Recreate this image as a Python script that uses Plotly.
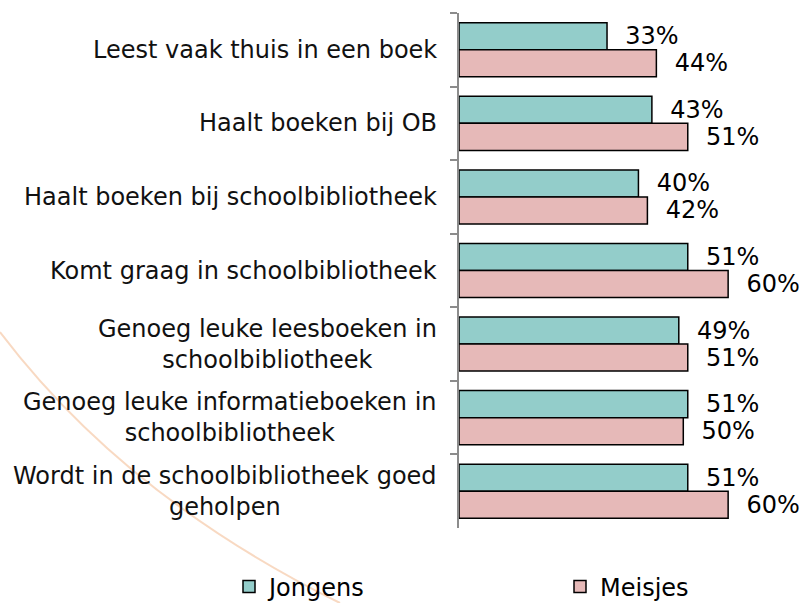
import plotly.graph_objects as go

categories = [
    "Leest vaak thuis in een boek",
    "Haalt boeken bij OB",
    "Haalt boeken bij schoolbibliotheek",
    "Komt graag in schoolbibliotheek",
    "Genoeg leuke leesboeken in<br>schoolbibliotheek",
    "Genoeg leuke informatieboeken in<br>schoolbibliotheek",
    "Wordt in de schoolbibliotheek goed<br>geholpen",
]
jongens = [33, 43, 40, 51, 49, 51, 51]
meisjes = [44, 51, 42, 60, 51, 50, 60]
series_names = ["Jongens", "Meisjes"]

W, H = 803, 603
L, R, T, B = 459, 30, 13, 75
PW, PH = W - L - R, H - T - B
FONT = "DejaVu Sans"
FS = 24


def px2paper(px, py):
    return (px - L) / PW, 1 - (py - T) / PH


fig = go.Figure()
for name, vals, col in [
    (series_names[0], jongens, "#93CDCA"),
    (series_names[1], meisjes, "#E6B9B8"),
]:
    fig.add_trace(go.Bar(
        name=name, y=categories, x=vals, orientation="h",
        marker=dict(color=col, line=dict(color="black", width=1.5)),
        text=[f"\u00a0\u00a0{v}%" for v in vals],
        textposition="outside", constraintext="none", cliponaxis=False,
        textfont=dict(family=FONT, size=FS, color="black"),
        hoverinfo="skip",
    ))

annotations = []
for c in categories:
    annotations.append(dict(
        x=0, xref="paper", y=c, yref="y", text=c, showarrow=False,
        xanchor="right", yanchor="middle", align="center", xshift=-20,
        font=dict(family=FONT, size=FS, color="#111111"),
    ))

# decorative arc in background
p0 = px2paper(0, 332)
p1 = px2paper(125, 497)
p2 = px2paper(340, 603)
path = f"M {p0[0]},{p0[1]} Q {p1[0]},{p1[1]} {p2[0]},{p2[1]}"

fig.update_layout(
    width=W, height=H,
    margin=dict(l=L, r=R, t=T, b=B, pad=0, autoexpand=False),
    paper_bgcolor="white", plot_bgcolor="white",
    barmode="group", bargap=0.265, bargroupgap=0,
    font=dict(family=FONT, size=FS, color="black"),
    xaxis=dict(range=[0, 70], showgrid=False, zeroline=False,
               showticklabels=False, showline=False, fixedrange=True),
    yaxis=dict(autorange="reversed", showticklabels=False, showgrid=False,
               showline=True, linecolor="#8C8C8C", linewidth=2,
               ticks="outside", tickson="boundaries", ticklen=7,
               tickcolor="#8C8C8C", tickwidth=2, zeroline=False),
    showlegend=True,
    legend=dict(orientation="h", x=(229 - L) / PW, xanchor="left",
                y=1 - (587 - T) / PH, yanchor="middle",
                font=dict(family=FONT, size=FS, color="black"),
                entrywidth=286, entrywidthmode="pixels",
                bgcolor="rgba(0,0,0,0)", traceorder="normal"),
    annotations=annotations,
    shapes=[dict(type="path", path=path, xref="paper", yref="paper",
                 line=dict(color="rgba(240,170,120,0.45)", width=2),
                 layer="below")],
)

fig.write_html("out.html", config={"displayModeBar": False},
               post_script="document.body.style.margin='0';document.body.style.overflow='hidden';")
